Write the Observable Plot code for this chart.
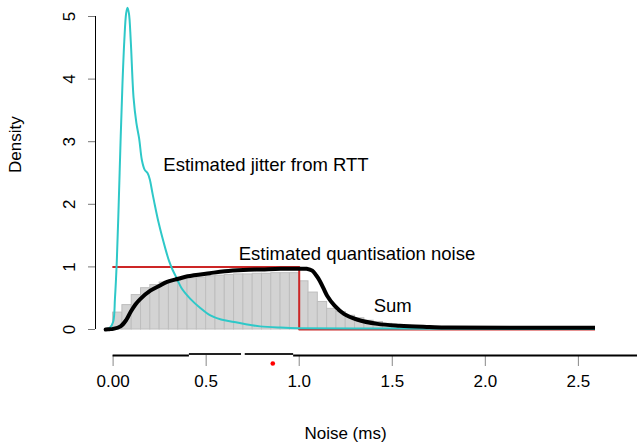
<!DOCTYPE html>
<html><head><meta charset="utf-8">
<script src="https://cdn.jsdelivr.net/npm/d3@7"></script>
<script src="https://cdn.jsdelivr.net/npm/@observablehq/plot@0.6"></script>
<style>
body{margin:0;background:#fff}
svg{font-family:"Liberation Sans",Arial,Helvetica,sans-serif}
</style>
</head><body><div id="chart"></div>
<script>
// ---- data ----
const binWidth = 0.05;
const histStart = [0.00,0.05,0.10,0.15,0.20,0.25,0.30,0.35,0.40,0.45,0.50,0.55,0.60,0.65,0.70,0.75,0.80,0.85,0.90,0.95,
  1.00,1.05,1.10,1.15,1.20,1.25,1.30,1.35,1.40,1.45,1.50,1.55,1.60,1.65,1.70,1.75,1.80,1.85,1.90,1.95,
  2.00,2.05,2.10,2.15,2.20,2.25,2.30,2.35,2.40,2.45,2.50];
const histDensity = [0.27,0.39,0.55,0.66,0.71,0.75,0.78,0.80,0.82,0.83,0.85,0.86,0.87,0.88,0.88,0.89,0.89,0.90,0.90,0.90,
  0.77,0.59,0.44,0.33,0.28,0.22,0.18,0.14,0.12,0.09,0.07,0.06,0.05,0.04,0.03,0.03,0.02,0.02,0.02,0.02,
  0.01,0.01,0.01,0.01,0.01,0.01,0.01,0.01,0.01,0.01,0.01];

const jitterX = [-0.04,-0.02,0.0,0.01,0.02,0.03,0.04,0.05,0.06,0.07,0.077,0.085,0.095,0.11,0.125,0.14,0.155,0.17,0.185,0.197,0.21,0.22,0.245,0.28,0.30,0.32,0.335,0.37,0.415,0.47,0.52,0.58,0.65,0.72,0.79,0.9,1.0,1.5,2.0,2.7];
const jitterY = [0,0.02,0.12,0.5,1.1,2.0,3.0,3.9,4.6,5.05,5.14,5.05,4.6,3.7,3.3,3.05,2.7,2.55,2.5,2.4,2.2,2.05,1.7,1.3,1.1,0.95,0.86,0.65,0.49,0.34,0.23,0.16,0.12,0.08,0.05,0.03,0.02,0.015,0.01,0.01];

const sumX = [-0.04,-0.02,0.0,0.04,0.07,0.094,0.12,0.147,0.2,0.25,0.29,0.35,0.40,0.52,0.6,0.7,0.8,0.9,1.0,1.04,1.07,1.09,1.11,1.13,1.15,1.19,1.24,1.31,1.42,1.54,1.7,1.8,2.7];
const sumY = [0,0.005,0.01,0.05,0.15,0.28,0.4,0.49,0.62,0.7,0.76,0.81,0.85,0.9,0.93,0.95,0.96,0.97,0.97,0.97,0.94,0.87,0.78,0.66,0.54,0.38,0.25,0.16,0.09,0.06,0.04,0.03,0.03];

const quantX = [0,1,1,2.7];
const quantY = [1,1,0,0];

// summary of the noise sample (drawn under the axis): whiskers and box
const whiskerFrom = [0.00,0.97];
const whiskerTo   = [0.41,3.20];
const boxFrom = [0.41,0.71];
const boxTo   = [0.69,0.97];
const meanNoise = [0.858];

const xTicks = [0,0.5,1,1.5,2,2.5];
const xTickLabels = ["0.00","0.5","1.0","1.5","2.0","2.5"];
const yTicks = [0,1,2,3,4,5];

const noteText = ["Estimated jitter from RTT","Estimated quantisation noise","Sum"];
const noteX = [0.27,0.675,1.40];
const noteY = [2.62,1.20,0.38];

// ---- build ----
const hist = histStart.map((x, i) => ({x1: x, x2: x + binWidth, y: histDensity[i]}));
const jitter = jitterX.map((x, i) => ({x, y: jitterY[i]}));
const sum = sumX.map((x, i) => ({x, y: sumY[i]}));
const quant = quantX.map((x, i) => ({x, y: quantY[i]}));
const whiskers = whiskerFrom.map((x, i) => ({x1: x, x2: whiskerTo[i], y: 0}));
const boxes = boxFrom.map((x, i) => ({x1: x, x2: boxTo[i], y: 0}));
const notes = noteText.map((t, i) => ({t, x: noteX[i], y: noteY[i]}));

const xDomain = [-0.0946, 2.592];
const FS = 17;

const chart = Plot.plot({
  width: 637, height: 446,
  marginLeft: 95, marginRight: 42, marginTop: 0, marginBottom: 91,
  style: {fontFamily: '"Liberation Sans",Arial,sans-serif', background: "#fff"},
  x: {domain: xDomain},
  y: {domain: [0, 5], range: [329, 16]},
  marks: [
    Plot.rectY(hist, {x1: "x1", x2: "x2", y: "y", fill: "#d3d3d3", stroke: "#bebebe", strokeWidth: 1}),
    Plot.line(quant, {x: "x", y: "y", stroke: "#cd2626", strokeWidth: 2, clip: true}),
    Plot.line(jitter, {x: "x", y: "y", stroke: "#2ec8c8", strokeWidth: 2, curve: "catmull-rom", clip: true}),
    Plot.line(sum, {x: "x", y: "y", stroke: "#000", strokeWidth: 4, curve: "catmull-rom", clip: true}),
    Plot.text(notes, {x: "x", y: "y", text: "t", textAnchor: "start", fontSize: 18.5, fill: "#000"}),
    // y axis
    Plot.ruleX([xDomain[0]], {x: d => d, y1: yTicks[0], y2: yTicks[yTicks.length - 1], stroke: "#000"}),
    Plot.axisY(yTicks, {anchor: "left", tickSize: 7, tickPadding: 14, tickRotate: -90, tickFormat: d => String(d), fontSize: FS, stroke: "#777", fill: "#000", label: null}),
    Plot.text(["Density"], {frameAnchor: "left", dx: -80, dy: -5, rotate: -90, fontSize: FS, fill: "#000"}),
    // x axis
    Plot.axisX(xTicks, {anchor: "bottom", tickSize: 11, tickPadding: 8, tickFormat: (d) => xTickLabels[xTicks.indexOf(d)], fontSize: FS, stroke: "#888", fill: "#000", label: null}),
    Plot.ruleY(whiskers, {x1: "x1", x2: "x2", y: "y", dy: 26, stroke: "#000", strokeWidth: 2}),
    Plot.ruleY(boxes, {x1: "x1", x2: "x2", y: "y", dy: 24.5, stroke: "#222", strokeWidth: 2}),
    Plot.dot(meanNoise, {x: d => d, y: () => 0, dy: 34, r: 2.3, fill: "#ff0000", stroke: "none"}),
    Plot.text(["Noise (ms)"], {frameAnchor: "bottom", dy: 83, fontSize: FS, fill: "#000"})
  ]
});
document.getElementById("chart").appendChild(chart);
</script>
</body></html>
